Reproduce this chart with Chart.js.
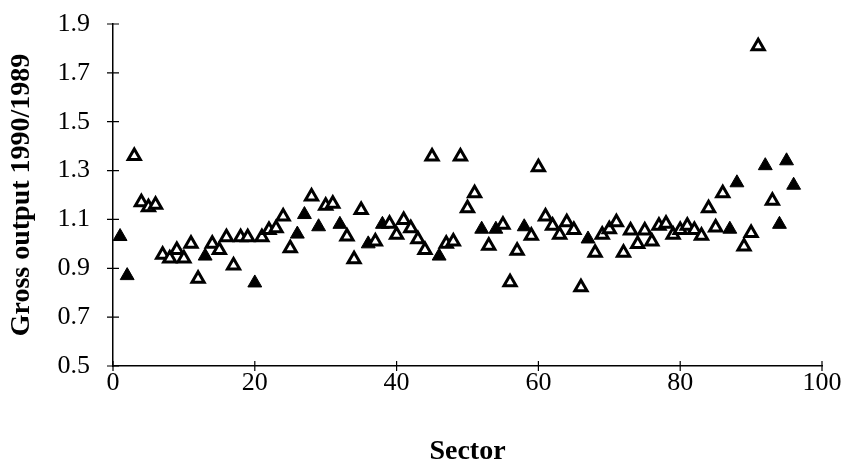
<!DOCTYPE html>
<html>
<head>
<meta charset="utf-8">
<script src="https://cdn.jsdelivr.net/npm/chart.js@4/dist/chart.umd.min.js"></script>
<style>
  html, body { margin: 0; padding: 0; background: #fff; }
  #wrap { width: 846px; height: 466px; }
</style>
</head>
<body>
<div id="wrap"><canvas id="chart" width="846" height="466"></canvas></div>
<script>
// sectors drawn with solid triangles
const filledSectors = [1, 2, 13, 20, 26, 27, 29, 32, 36, 38, 46, 52, 54, 58, 67, 87, 88, 92, 94, 95, 96];
const filledValues = [1.03, 0.87, 0.95, 0.84, 1.04, 1.12, 1.07, 1.08, 1.0, 1.08, 0.95, 1.06, 1.06, 1.07, 1.02, 1.06, 1.25, 1.32, 1.08, 1.34, 1.24];

// sectors drawn with open triangles
const openSectors = [3, 4, 5, 6, 7, 8, 9, 10, 11, 12, 14, 15, 16, 17, 18, 19, 21, 22, 23, 24, 25, 28, 30, 31, 33, 34, 35, 37, 39, 40,
  41, 42, 43, 44, 45, 47, 48, 49, 50, 51, 53, 55, 56, 57, 59, 60, 61, 62, 63, 64, 65, 66, 68, 69, 70, 71, 72, 73, 74, 75,
  76, 77, 78, 79, 80, 81, 82, 83, 84, 85, 86, 89, 90, 91, 93];
const openValues = [1.36, 1.17, 1.15, 1.16, 0.955, 0.94, 0.975, 0.94, 1.0, 0.857, 1.0, 0.975, 1.027, 0.911, 1.027, 1.027, 1.027, 1.057, 1.064, 1.112, 0.982, 1.194, 1.156, 1.164, 1.03, 0.937, 1.139, 1.01, 1.082, 1.037,
  1.098, 1.064, 1.019, 0.975, 1.358, 1.0, 1.01, 1.358, 1.146, 1.207, 0.992, 1.078, 0.843, 0.972, 1.033, 1.314, 1.112, 1.074, 1.037, 1.088, 1.057, 0.822, 0.964, 1.037, 1.06, 1.088, 0.964, 1.055, 0.999, 1.055,
  1.01, 1.074, 1.082, 1.037, 1.057, 1.074, 1.057, 1.033, 1.146, 1.067, 1.207, 0.989, 1.044, 1.809, 1.176];

const xTicks = [0, 20, 40, 60, 80, 100];
const yTicks = [0.5, 0.7, 0.9, 1.1, 1.3, 1.5, 1.7, 1.9];

const toPoints = (xs, ys) => xs.map((x, i) => ({ x: x, y: ys[i] }));

const family = "'Liberation Serif', 'Times New Roman', serif";
const tickFont = { family: family, size: 26 };
const titleFont = { family: family, size: 28, weight: "bold", lineHeight: 1.0 };

// small ticks that cross the axis lines
const crossTicks = {
  id: "crossTicks",
  afterDraw(chart) {
    const { ctx, scales } = chart;
    const xs = scales.x, ys = scales.y;
    ctx.save();
    ctx.strokeStyle = "#000";
    ctx.lineWidth = 1.2;
    ctx.beginPath();
    yTicks.forEach((v) => {
      const py = ys.getPixelForValue(v);
      ctx.moveTo(xs.left - 6, py);
      ctx.lineTo(xs.left + 6, py);
    });
    xTicks.forEach((v) => {
      const px = xs.getPixelForValue(v);
      ctx.moveTo(px, ys.bottom - 5);
      ctx.lineTo(px, ys.bottom + 5);
    });
    ctx.stroke();
    ctx.restore();
  },
};

new Chart(document.getElementById("chart"), {
  type: "scatter",
  data: {
    datasets: [
      {
        label: "open",
        data: toPoints(openSectors, openValues),
        pointStyle: "triangle",
        pointRadius: 7,
        pointBorderWidth: 3,
        pointBorderColor: "#000",
        pointBackgroundColor: "#fff",
      },
      {
        label: "filled",
        data: toPoints(filledSectors, filledValues),
        pointStyle: "triangle",
        pointRadius: 8,
        pointBorderWidth: 1,
        pointBorderColor: "#000",
        pointBackgroundColor: "#000",
      },
    ],
  },
  options: {
    responsive: false,
    animation: false,
    layout: { padding: { top: 24, right: 24, bottom: 0, left: 0 } },
    plugins: { legend: { display: false }, tooltip: { enabled: false } },
    scales: {
      x: {
        type: "linear",
        min: 0,
        max: 100,
        afterBuildTicks: (s) => { s.ticks = xTicks.map((v) => ({ value: v })); },
        afterFit: (s) => { s.height = 100; s.paddingLeft = 0; s.paddingRight = 0; },
        grid: { display: false, drawTicks: false },
        border: { display: true, color: "#000", width: 1.5, dash: [14, 3] },
        ticks: { color: "#000", font: tickFont, padding: 2, maxRotation: 0 },
        title: {
          display: true,
          text: "Sector",
          color: "#000",
          font: titleFont,
          padding: { top: 0, bottom: 0 },
        },
      },
      y: {
        type: "linear",
        min: 0.5,
        max: 1.9,
        afterBuildTicks: (s) => { s.ticks = yTicks.map((v) => ({ value: v })); },
        afterFit: (s) => { s.width = 113; s.paddingTop = 0; s.paddingBottom = 0; },
        grid: { display: false, drawTicks: false },
        border: { display: true, color: "#000", width: 1.5, dash: [7, 3] },
        ticks: { color: "#000", font: tickFont, padding: 23, callback: (v) => v.toFixed(1) },
        title: {
          display: true,
          text: "Gross output 1990/1989",
          color: "#000",
          font: titleFont,
          padding: { top: 8, bottom: 0 },
        },
      },
    },
  },
  plugins: [crossTicks],
});
</script>
</body>
</html>
